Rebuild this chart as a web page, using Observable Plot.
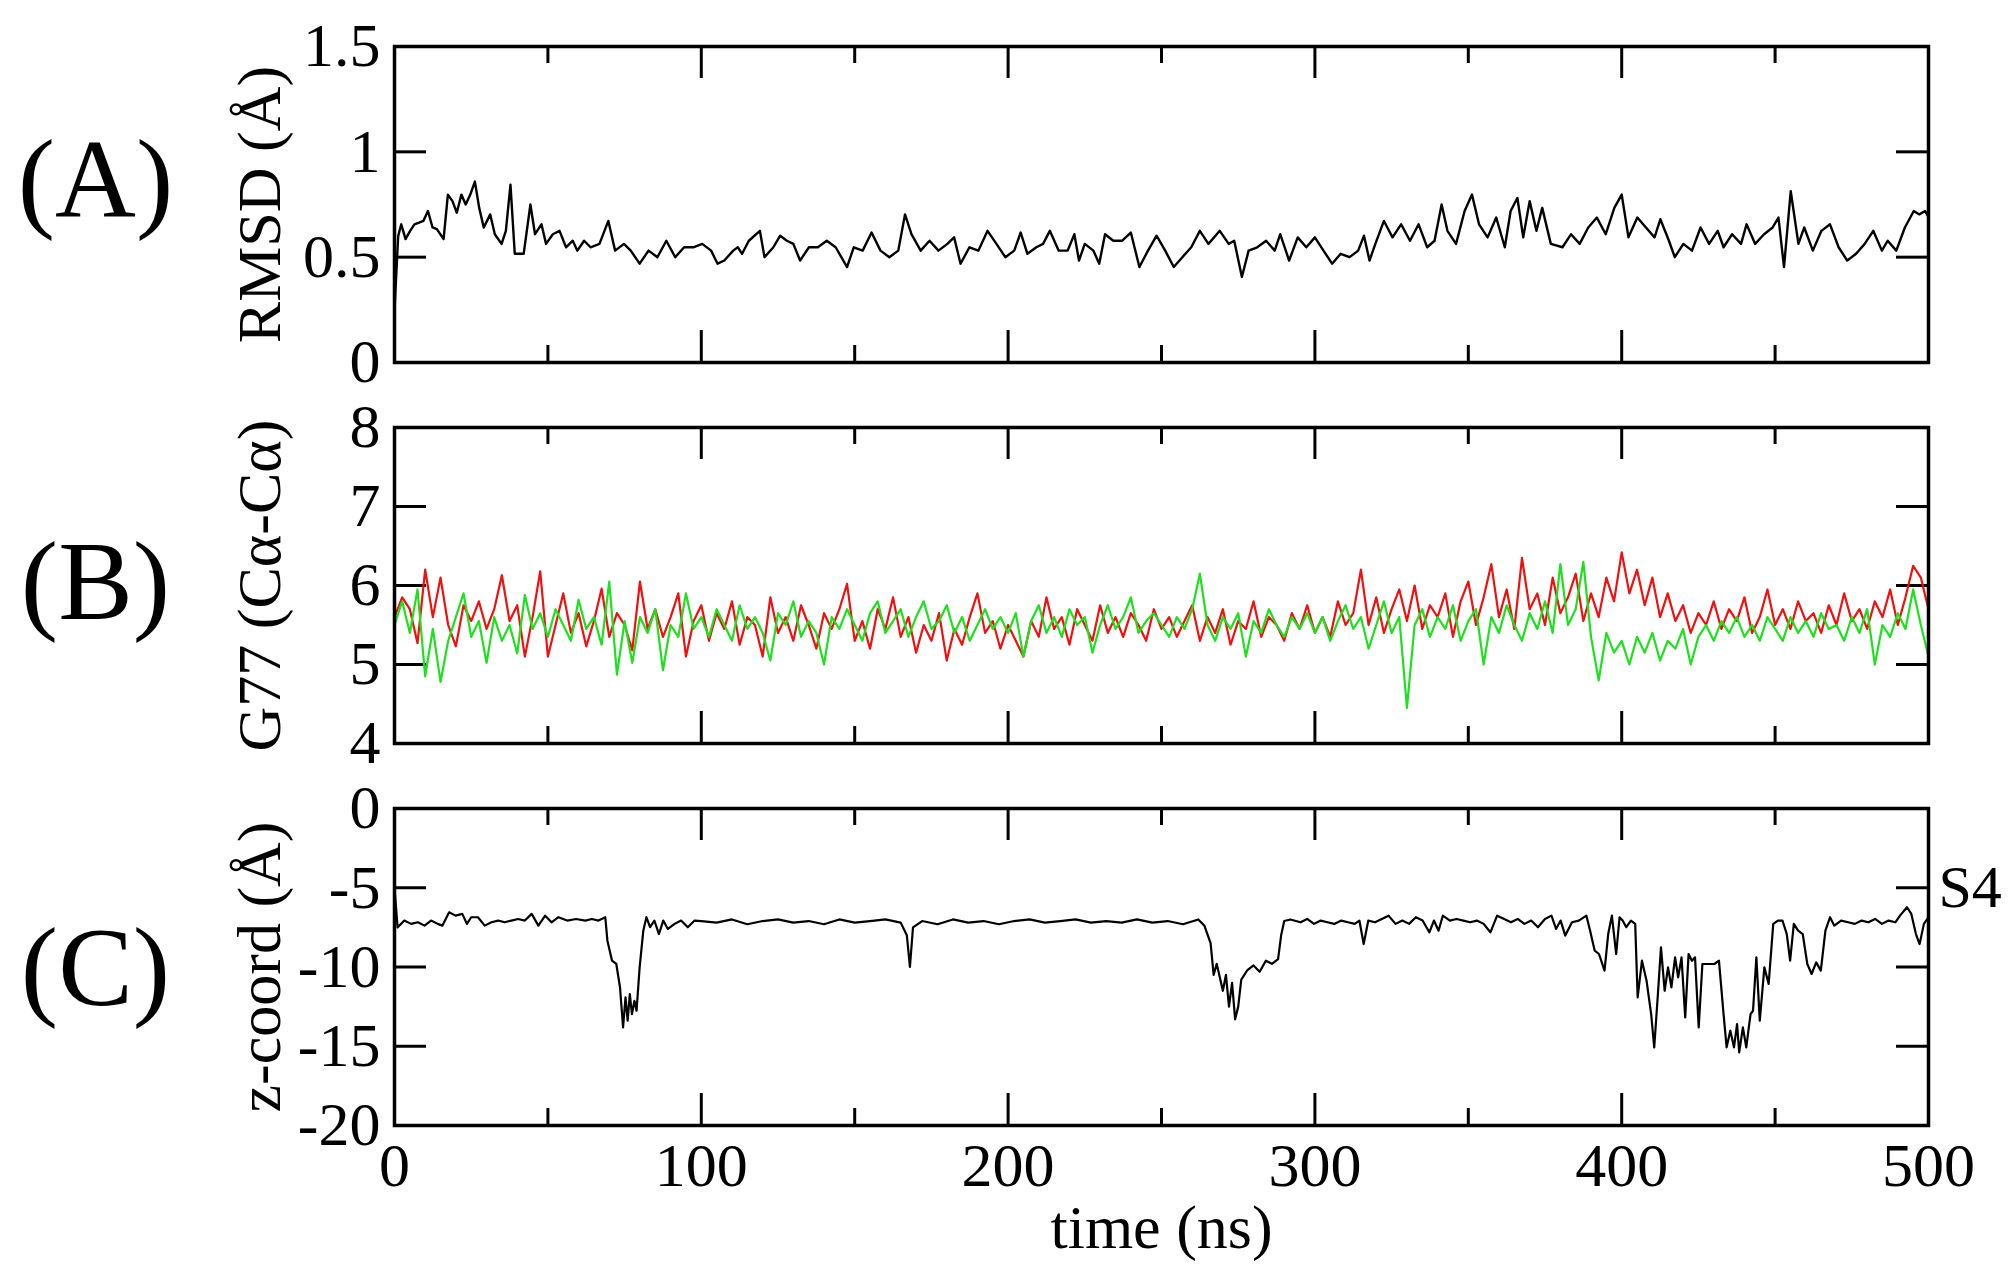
<!DOCTYPE html>
<html><head><meta charset="utf-8">
<script src="https://cdn.jsdelivr.net/npm/d3@7"></script>
<script src="https://cdn.jsdelivr.net/npm/@observablehq/plot@0.6"></script>
<style>
body{margin:0;background:#fff;}
#chart{position:relative;width:2010px;height:1275px;overflow:hidden;background:#fff}
#chart > div{position:absolute;left:0}
</style></head><body><div id="chart"></div>
<script>
// ---------- tick values ----------
const xMajor = [0, 100, 200, 300, 400, 500];
const xMinor = [50, 150, 250, 350, 450];
const yTicksA = [0, 0.5, 1, 1.5];
const yTicksB = [4, 5, 6, 7, 8];
const yTicksC = [0, -5, -10, -15, -20];

// ---------- (A) RMSD ----------
const rmsdT = [0,1.2,2.2,3.6,5.1,6.5,8,9.4,10.9,12.4,13.8,16,17.4,18.9,20.3,21.8,23.2,24.7,26.2,27.6,29.1,31.2,32.7,34.9,36.3,37.8,39.2,42.1,44.3,45.8,47.9,49.4,51.6,53.8,55.9,58.1,59.6,61.8,63.9,66.8,69.7,71.9,74.8,77,79.9,82.8,85.7,88.6,91.5,94.4,97.4,100.3,103.2,105.3,107.5,110.4,111.9,113.3,115.5,119.1,120.6,123.5,125.7,127.9,130,132.2,135.1,138,140.9,143.8,147.5,149.7,152.6,155.5,158.4,161.3,164.2,166.4,168.5,171.5,174.4,177.3,180.2,182.4,184.5,187.4,190.3,193.3,196.2,199.1,202,204.1,206.3,209.2,211.4,213.6,216.5,219.4,221.6,223.1,225,227.8,229.7,231.6,234.3,237.2,240,242.8,245.6,248.4,251.2,254,256.8,259.7,262.5,265.3,269,271.9,273.7,276.2,278.4,281.2,284.1,286.9,288.7,291.6,294.4,297.2,300,302.8,305.6,308.4,311.3,314.1,316,317.8,319.7,322.5,325.3,328.1,331,333.8,336.6,339,341.3,343.2,346,348.8,351.2,353.5,356.3,359.1,361.9,363.8,366,367.9,370,372.2,374.1,376.9,380.7,383.5,386.3,389.1,391.9,394.8,397.6,400,402.2,405.1,407.9,410.7,412.6,415.4,417.3,420.1,422.9,425.7,428.5,431.3,433.2,436,438.9,440.7,443.5,446.4,449.2,451.1,452.9,455.1,457.6,459.5,462.3,465.1,467.9,470.7,473.5,476.4,479.2,482,484.8,486.7,489.5,492.3,495.2,497,498.9,500];
const rmsdV = [0.25,0.6,0.656,0.586,0.625,0.656,0.664,0.672,0.719,0.641,0.633,0.586,0.797,0.766,0.711,0.797,0.75,0.797,0.859,0.734,0.641,0.703,0.609,0.563,0.625,0.844,0.516,0.516,0.75,0.609,0.656,0.563,0.609,0.625,0.547,0.578,0.531,0.578,0.547,0.563,0.672,0.531,0.563,0.531,0.469,0.531,0.5,0.578,0.5,0.547,0.547,0.563,0.531,0.469,0.484,0.531,0.547,0.516,0.578,0.625,0.5,0.547,0.602,0.578,0.563,0.484,0.547,0.547,0.578,0.547,0.453,0.547,0.531,0.617,0.531,0.5,0.531,0.703,0.609,0.531,0.578,0.531,0.563,0.594,0.469,0.547,0.531,0.625,0.563,0.5,0.531,0.617,0.516,0.547,0.563,0.625,0.531,0.531,0.609,0.484,0.563,0.531,0.469,0.609,0.578,0.578,0.617,0.453,0.531,0.602,0.531,0.453,0.5,0.547,0.625,0.563,0.625,0.563,0.578,0.406,0.531,0.547,0.578,0.531,0.609,0.484,0.594,0.547,0.594,0.531,0.469,0.516,0.5,0.531,0.602,0.484,0.563,0.672,0.594,0.656,0.578,0.656,0.547,0.578,0.75,0.625,0.563,0.719,0.797,0.656,0.594,0.688,0.547,0.719,0.781,0.594,0.766,0.625,0.734,0.563,0.547,0.609,0.563,0.641,0.688,0.609,0.734,0.797,0.594,0.688,0.641,0.594,0.68,0.578,0.5,0.563,0.531,0.641,0.563,0.625,0.547,0.609,0.563,0.656,0.563,0.609,0.641,0.688,0.453,0.813,0.563,0.641,0.531,0.625,0.656,0.547,0.484,0.516,0.563,0.625,0.531,0.578,0.531,0.641,0.719,0.703,0.719,0.69];

// ---------- (B) G77 Cα-Cα distances (two chains) ----------
const g77T = [0,2.5,5,7.5,10,12.5,15,17.5,20,22.5,25,27.5,30,32.5,35,37.5,40,42.5,45,47.5,50,52.5,55,57.5,60,62.5,65,67.5,70,72.5,75,77.5,80,82.5,85,87.5,90,92.5,95,97.5,100,102.5,105,107.5,110,112.5,115,117.5,120,122.5,125,127.5,130,132.5,135,137.5,140,142.5,145,147.5,150,152.5,155,157.5,160,162.5,165,167.5,170,172.5,175,177.5,180,182.5,185,187.5,190,192.5,195,197.5,200,202.5,205,207.5,210,212.5,215,217.5,220,222.5,225,227.5,230,232.5,235,237.5,240,242.5,245,247.5,250,252.5,255,257.5,260,262.5,265,267.5,270,272.5,275,277.5,280,282.5,285,287.5,290,292.5,295,297.5,300,302.5,305,307.5,310,312.5,315,317.5,320,322.5,325,327.5,330,332.5,335,337.5,340,342.5,345,347.5,350,352.5,355,357.5,360,362.5,365,367.5,370,372.5,375,377.5,380,382.5,385,387.5,390,392.5,395,397.5,400,402.5,405,407.5,410,412.5,415,417.5,420,422.5,425,427.5,430,432.5,435,437.5,440,442.5,445,447.5,450,452.5,455,457.5,460,462.5,465,467.5,470,472.5,475,477.5,480,482.5,485,487.5,490,492.5,495,497.5,500];
const g77Red = [
5.6,5.85,5.7,5.27,6.2,5.6,6.1,5.5,5.23,5.75,5.55,5.8,5.45,5.7,6.13,5.55,5.75,5.1,5.6,6.18,
5.1,5.5,5.9,5.4,5.65,5.23,5.55,5.96,5.35,5.65,5.5,5.18,6.05,5.45,5.7,5.35,5.6,5.9,5.1,5.55,
5.75,5.3,5.65,5.45,5.8,5.25,5.6,5.5,5.1,5.85,5.4,5.6,5.3,5.75,5.5,5.2,5.65,5.45,5.7,6.02,
5.3,5.55,5.2,5.7,5.45,5.85,5.35,5.6,5.15,5.5,5.3,5.65,5.05,5.45,5.25,5.6,5.9,5.4,5.55,5.2,
5.5,5.3,5.1,5.55,5.35,5.85,5.45,5.6,5.25,5.7,5.5,5.3,5.75,5.4,5.6,5.35,5.65,5.5,5.3,5.7,
5.45,5.6,5.35,5.55,5.75,5.3,5.6,5.4,5.7,5.25,5.55,5.45,5.8,5.35,5.6,5.5,5.3,5.65,5.45,5.75,
5.4,5.6,5.35,5.8,5.5,5.65,6.2,5.5,5.85,5.4,5.7,5.95,5.55,6.0,5.45,5.75,5.6,5.9,5.35,5.8,
6.05,5.5,5.85,6.27,5.6,5.95,5.45,6.35,5.7,5.9,5.5,6.1,5.65,5.85,6.15,5.55,5.9,5.6,6.1,5.8,
6.42,5.9,6.2,5.75,6.1,5.6,5.9,5.55,5.75,5.4,5.65,5.5,5.8,5.45,5.7,5.55,5.85,5.4,5.6,5.95,
5.5,5.7,5.45,5.8,5.55,5.65,5.4,5.75,5.5,5.9,5.55,5.7,5.45,5.8,5.6,5.95,5.5,5.85,6.25,6.1,5.7];
const g77Green = [
5.5,5.8,5.4,5.95,4.85,5.45,4.78,5.3,5.6,5.9,5.35,5.55,5.02,5.6,5.3,5.5,5.14,5.88,5.45,5.65,
5.35,5.7,5.5,5.3,5.82,5.45,5.6,5.25,6.05,4.87,5.55,5.02,5.6,5.4,5.7,4.93,5.5,5.35,5.9,5.45,
5.6,5.35,5.7,5.5,5.3,5.75,5.45,5.6,5.4,5.05,5.65,5.5,5.8,5.35,5.55,5.4,5.0,5.6,5.45,5.7,
5.5,5.3,5.65,5.8,5.4,5.55,5.7,5.35,5.6,5.8,5.45,5.55,5.75,5.4,5.6,5.3,5.5,5.7,5.45,5.6,
5.4,5.65,5.1,5.55,5.75,5.4,5.6,5.35,5.7,5.5,5.6,5.15,5.5,5.75,5.45,5.6,5.85,5.4,5.55,5.65,
5.5,5.35,5.6,5.45,5.7,6.15,5.5,5.3,5.6,5.45,5.65,5.1,5.55,5.4,5.7,5.5,5.35,5.6,5.45,5.65,
5.4,5.6,5.3,5.55,5.75,5.45,5.6,5.2,5.5,5.8,5.4,5.6,4.45,5.5,5.7,5.35,5.6,5.45,5.75,5.3,
5.55,5.7,5.0,5.6,5.4,5.75,5.5,5.3,5.65,5.45,5.8,5.4,6.27,5.5,5.7,6.3,5.35,4.8,5.4,5.15,
5.3,5.0,5.35,5.15,5.4,5.05,5.3,5.2,5.45,5.0,5.35,5.5,5.3,5.55,5.4,5.6,5.35,5.5,5.3,5.6,
5.45,5.3,5.6,5.4,5.55,5.35,5.65,5.45,5.5,5.3,5.6,5.4,5.7,5.0,5.5,5.35,5.65,5.45,5.95,5.5,5.1];

// ---------- (C) z-coordinate ----------
const zT = [0,1,3.2,5.4,7.6,9.8,11.9,14.1,15.6,17.8,19.9,22.1,23.6,25,27.2,29.4,31.6,33.8,35.9,38.1,40.3,42.5,44.7,46.9,49.1,51.2,53.4,56.3,59.2,62.2,64.3,66.5,68.7,69.4,70.9,72.3,73.5,74.5,75.3,76,76.7,77.4,78.2,78.9,79.9,81.1,82.1,83.3,84.7,86.2,87.6,89.1,91.3,93.4,95.6,97.8,100,105,110,115,120,125,130,135,140,145,150,155,160,165,167,168,169,172,177,182,187,192,197,202,207,212,217,222,227,232,237,242,247,252,257,262,264,266,267,268,270,271,272,273,274,275,276,278,280,282,284,286,288,289,290,292,295.3,297.5,299.7,301.9,304.1,306.3,308.6,310.8,313,314.5,315.9,317.4,319.6,321.8,324,326.3,328.5,330.7,332.9,335.1,337.3,338.8,340.3,341.7,344,346.2,348.4,350.6,352.8,355,357.2,359.4,361.7,363.9,366.1,368.3,370.5,372.7,375,377.1,378.6,380.1,381.6,383.8,386,388.5,389.7,391.2,392.6,394.4,395.6,396.8,398.2,399.3,400.3,401.5,403,404.4,405.2,406.6,408.1,409.6,410.6,411.8,412.8,414,415.1,416.2,417.4,418.4,419.5,420.7,421.8,422.9,423.9,425.1,426.3,428,430.2,431.7,433.2,434.2,435.4,436.6,437.6,438.3,439.5,440.6,442,442.8,443.9,445,446.5,447.9,449.4,450.9,452.4,453.8,454.9,456.1,457.5,459,460.5,461.9,463.4,464.9,466.4,467.9,469.3,471.5,473.8,476,478.2,480.4,482.6,484.8,487,489.2,490.7,493,494.4,495.9,497.1,498.5,500];
const zV = [-5.0,-7.5,-7.07,-7.28,-7.18,-7.39,-7.07,-7.28,-7.39,-6.55,-6.76,-6.65,-7.28,-6.86,-6.86,-7.39,-7.18,-7.07,-7.18,-7.07,-6.97,-7.07,-6.65,-7.39,-6.76,-7.18,-6.86,-7.07,-6.97,-7.07,-6.97,-7.07,-6.86,-8.34,-9.6,-9.81,-11.28,-13.81,-11.92,-13.39,-11.71,-12.97,-12.13,-12.76,-10.02,-7.71,-6.86,-7.49,-7.07,-7.92,-7.07,-7.6,-7.28,-7.07,-7.49,-7.07,-7.1,-7.2,-7.0,-7.3,-7.1,-7.0,-7.2,-7.1,-7.3,-7.0,-7.2,-7.1,-7.0,-7.2,-8.0,-10.0,-7.5,-7.1,-7.3,-7.0,-7.2,-7.1,-7.3,-7.1,-7.0,-7.2,-7.1,-7.0,-7.2,-7.1,-7.2,-7.0,-7.2,-7.1,-7.3,-7.0,-7.4,-8.5,-10.5,-9.8,-11.5,-10.5,-12.5,-11.0,-13.3,-12.5,-10.8,-10.2,-9.9,-10.3,-9.6,-9.8,-9.5,-8.0,-7.1,-7.0,-7.18,-6.97,-7.28,-7.07,-7.18,-7.28,-7.07,-7.18,-7.28,-7.07,-8.55,-7.07,-7.18,-6.97,-6.76,-7.28,-7.07,-7.28,-6.86,-7.07,-7.81,-7.07,-7.71,-6.76,-7.07,-6.97,-7.07,-7.18,-7.07,-7.28,-7.81,-6.76,-6.97,-7.18,-6.97,-7.28,-7.07,-7.49,-6.97,-6.76,-7.6,-7.07,-8.02,-7.18,-7.07,-6.76,-7.71,-8.97,-9.18,-10.23,-7.92,-6.76,-9.18,-6.86,-7.07,-7.49,-7.07,-7.28,-11.92,-9.6,-10.86,-12.97,-15.07,-11.71,-8.76,-11.5,-10.02,-11.28,-9.39,-10.65,-9.39,-13.18,-9.18,-9.6,-9.39,-13.81,-9.81,-9.81,-9.81,-9.6,-12.97,-15.07,-14.02,-15.07,-13.6,-15.39,-13.81,-15.07,-12.97,-12.76,-9.39,-13.39,-10.02,-11.07,-7.28,-7.07,-7.07,-7.92,-9.6,-7.28,-7.71,-7.92,-9.81,-10.44,-9.71,-10.23,-7.71,-6.86,-7.39,-7.07,-7.18,-7.28,-7.07,-7.18,-6.97,-7.28,-7.07,-7.18,-6.76,-6.23,-6.65,-7.92,-8.55,-7.28,-6.86];

// ---------- text ----------
const panelLetters = ["(A)", "(B)", "(C)"];
const yLabels = ["RMSD (Å)", "G77 (Cα-Cα)", "z-coord (Å)"];
const xLabel = "time (ns)";
const siteLabel = "S4";
const siteValue = -5;

// ---------- layout ----------
const W = 2010, ML = 394, MR = 82, FW = W - ML - MR;
const FONT = "'Liberation Serif', 'Times New Roman', serif";
const MAJ = 32, MIN = 17;

function toRows(T, V, key) { return T.map((t, i) => ({t, v: V[i], s: key})); }

function makePanel(cfg) {
  const FH = cfg.height - cfg.mt - cfg.mb;
  const marks = [
    Plot.tickY(cfg.yTicks, {y: d => d, insetRight: FW - MAJ, stroke: "black", strokeWidth: 3}),
    Plot.tickY(cfg.yTicks, {y: d => d, insetLeft: FW - MAJ, stroke: "black", strokeWidth: 3}),
    Plot.tickX(xMajor, {x: d => d, insetTop: FH - MAJ, stroke: "black", strokeWidth: 3}),
    Plot.tickX(xMajor, {x: d => d, insetBottom: FH - MAJ, stroke: "black", strokeWidth: 3}),
    Plot.tickX(xMinor, {x: d => d, insetTop: FH - MIN, stroke: "black", strokeWidth: 3}),
    Plot.tickX(xMinor, {x: d => d, insetBottom: FH - MIN, stroke: "black", strokeWidth: 3}),
    ...cfg.series.map(s => Plot.line(s.rows, {x: "t", y: "v", stroke: s.color, strokeWidth: s.width, strokeLinejoin: "round"})),
    Plot.frame({stroke: "black", strokeWidth: 3.5}),
    Plot.axisY(cfg.yTicks, {tickSize: 0, tickPadding: 14, tickFormat: d => String(d), fontSize: 62, label: null}),
    Plot.text([cfg.yLabel], {frameAnchor: "left", text: d => d, rotate: -90, dx: -115, lineAnchor: "bottom", textAnchor: "middle", fontSize: 62}),
    Plot.text([cfg.letter], {frameAnchor: "left", text: d => d, dx: 95 - ML, dy: cfg.letterDy, textAnchor: "middle", lineAnchor: "middle", fontSize: 112}),
    ...(cfg.extra || [])
  ];
  if (cfg.showX) {
    marks.push(Plot.axisX(xMajor, {tickSize: 0, tickPadding: 16, tickFormat: d => String(d), fontSize: 62, label: null}));
    marks.push(Plot.text([xLabel], {frameAnchor: "bottom", text: d => d, dy: 122, lineAnchor: "bottom", textAnchor: "middle", fontSize: 62}));
  }
  const svg = Plot.plot({
    width: W, height: cfg.height,
    marginLeft: ML, marginRight: MR, marginTop: cfg.mt, marginBottom: cfg.mb,
    x: {domain: [0, 500], axis: null},
    y: {domain: cfg.yDomain, axis: null},
    style: {fontFamily: FONT, fontSize: "62px", color: "black", background: "transparent", overflow: "visible"},
    marks
  });
  const div = document.createElement("div");
  div.style.top = cfg.top + "px";
  div.appendChild(svg);
  document.getElementById("chart").appendChild(div);
}

makePanel({
  top: 0, height: 400, mt: 46, mb: 38, yDomain: [0, 1.5], yTicks: yTicksA,
  series: [{rows: toRows(rmsdT, rmsdV, "rmsd"), color: "black", width: 2.4}],
  yLabel: yLabels[0], letter: panelLetters[0], letterDy: -23
});
makePanel({
  top: 400, height: 380, mt: 27, mb: 37, yDomain: [4, 8], yTicks: yTicksB,
  series: [
    {rows: toRows(g77T, g77Red, "red"), color: "#f01010", width: 2.2},
    {rows: toRows(g77T, g77Green, "green"), color: "#1ee01e", width: 2.2}
  ],
  yLabel: yLabels[1], letter: panelLetters[1], letterDy: -2
});
makePanel({
  top: 780, height: 495, mt: 28, mb: 150, yDomain: [-20, 0], yTicks: yTicksC,
  series: [{rows: toRows(zT, zV, "z"), color: "black", width: 2.2}],
  yLabel: yLabels[2], letter: panelLetters[2], letterDy: 2, showX: true,
  extra: [Plot.text([{t: 500, v: siteValue, label: siteLabel}], {x: "t", y: "v", text: "label", dx: 10, textAnchor: "start", lineAnchor: "middle", fontSize: 60})]
});
</script></body></html>
